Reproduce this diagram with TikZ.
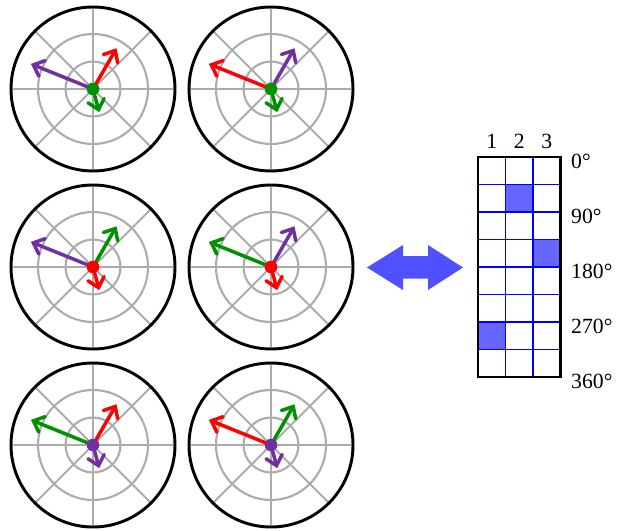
\documentclass[tikz,border=0pt]{standalone}
\usepackage{fontspec}
\setmainfont{Liberation Serif}
\usetikzlibrary{arrows.meta}
\definecolor{vred}{RGB}{255,0,0}
\definecolor{vgreen}{RGB}{0,145,0}
\definecolor{vpurple}{RGB}{112,48,160}
\definecolor{cellfill}{RGB}{102,102,255}
\definecolor{bigarrow}{RGB}{80,80,255}
\tikzset{
  ring/.style={draw=gray!65, line width=1.8pt},
  rim/.style={draw=black, line width=2.5pt},
  vec/.style={draw=#1, line width=3pt, line cap=round,
    -{Straight Barb[length=2.8mm, width=5mm, line cap=round]}},
  gridline/.style={draw=blue, line width=0.9pt},
  tabborder/.style={draw=black, line width=2pt},
  tablabel/.style={font=\fontsize{18.5}{21}\selectfont, inner sep=0pt},
}

\begin{document}
\begin{tikzpicture}[x=0.3mm, y=0.3mm]
  \useasboundingbox (0,0) rectangle (621,530);
  \foreach \n/\cx/\cy/\colA/\colB/\colC in {1/93/441/vred/vpurple/vgreen,
      2/271/441/vpurple/vred/vgreen, 3/93/263/vgreen/vpurple/vred,
      4/271/263/vpurple/vgreen/vred, 5/93/85/vred/vgreen/vpurple,
      6/271/85/vgreen/vred/vpurple} {
    \coordinate (c\n) at (\cx,\cy);
    \foreach \a in {0,45,...,315} \draw[ring] (c\n) -- ++(\a:82);
    \draw[ring] (c\n) circle (27.5) (c\n) circle (55);
    \draw[rim] (c\n) circle (82);
    \draw[vec=\colA] (c\n) -- ++(60:47);
    \draw[vec=\colB] (c\n) -- ++(158:67);
    \draw[vec=\colC] (c\n) -- ++(285:24);
    \fill[\colC] (c\n) circle (6.3);
  }
  \fill[bigarrow] (367,262.5) -- (403,285) -- (403,274) -- (428,274) -- (428,285)
    -- (463,262.5) -- (428,240) -- (428,251.5) -- (403,251.5) -- (403,240) -- cycle;
  \fill[cellfill] (505.5,345.5) rectangle (533,318);
  \fill[cellfill] (533,290.5) rectangle (560.5,263);
  \fill[cellfill] (478,208) rectangle (505.5,180.5);
  \foreach \k in {1,...,7} \draw[gridline] (478,373-27.5*\k) -- (560.5,373-27.5*\k);
  \foreach \k in {1,2} \draw[gridline] (478+27.5*\k,373) -- (478+27.5*\k,153);
  \draw[tabborder] (478,153) rectangle (560.5,373);
  \foreach \k in {1,2,3} \node[tablabel] (col\k) at (478+27.5*\k-13.75,389) {\k};
  \foreach \d [count=\k from 0] in {0,90,180,270,360}
    \node[tablabel, anchor=west] (deg\d) at (571,369-55*\k) {\d°};
\end{tikzpicture}
\end{document}
